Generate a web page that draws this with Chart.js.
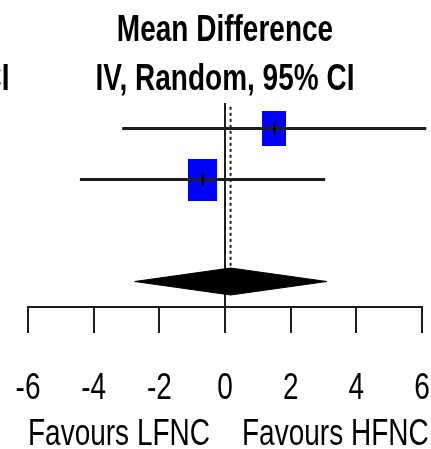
<!DOCTYPE html>
<html>
<head>
<meta charset="utf-8">
<script src="https://cdn.jsdelivr.net/npm/chart.js@4.4.1/dist/chart.umd.min.js"></script>
<style>
  html, body { margin: 0; padding: 0; background: #fff; overflow: hidden; }
</style>
</head>
<body>
<canvas id="forest" width="431" height="449"></canvas>
<script>
// Study rows, mean difference with 95% CI and weight (%)
const studies = ["Study 1", "Study 2"];
const rows = [1, 3];
const meanDiff = [1.50, -0.68];
const ciLow = [-3.13, -4.42];
const ciHigh = [6.13, 3.05];
const weights = [40.6, 59.4];

// Pooled (random effects) estimate
const pooledRow = 7;
const pooledMD = 0.17;
const pooledLow = -2.75;
const pooledHigh = 3.10;

const xTicks = [-6, -4, -2, 0, 2, 4, 6];
const headings = ["Mean Difference", "IV, Random, 95% CI"];
const favours = ["Favours LFNC", "Favours HFNC"];

const INK = "#1e1e1e";
const TEXT_STRETCH = 1.35;   // tall, narrow lettering

// blue weight box, area proportional to weight
function boxImage(w) {
  const side = 3.76 * Math.sqrt(w);
  const c = document.createElement("canvas");
  c.width = Math.round(side);
  c.height = Math.round(side * 1.45);
  const g = c.getContext("2d");
  g.fillStyle = "#0000ff";
  g.fillRect(0, 0, c.width, c.height);
  return c;
}

const ciLines = studies.map((s, i) => ({
  label: s + " CI",
  data: [{ x: ciLow[i], y: rows[i] }, { x: ciHigh[i], y: rows[i] }],
  borderColor: INK,
  borderWidth: 2.8,
  pointRadius: 0,
  clip: false,
  order: 1
}));

const boxes = {
  label: "weights",
  data: studies.map((s, i) => ({ x: meanDiff[i], y: rows[i] })),
  showLine: false,
  pointStyle: weights.map(boxImage),
  order: 2
};

const marks = {
  label: "estimates",
  data: studies.map((s, i) => ({ x: meanDiff[i], y: rows[i] })),
  showLine: false,
  pointStyle: "line",
  rotation: 90,
  radius: 6.5,
  borderColor: "#000",
  borderWidth: 2,
  order: 0
};

const dh = 0.53;
const diamond = {
  label: "pooled",
  data: [
    { x: pooledLow, y: pooledRow },
    { x: pooledMD, y: pooledRow - dh },
    { x: pooledHigh, y: pooledRow },
    { x: pooledMD, y: pooledRow + dh },
    { x: pooledLow, y: pooledRow }
  ],
  borderColor: "#000",
  backgroundColor: "#000",
  borderWidth: 1,
  fill: "shape",
  pointRadius: 0,
  order: 3
};

const pooledLine = {
  label: "pooled line",
  data: [{ x: pooledMD, y: 0.15 }, { x: pooledMD, y: pooledRow - dh }],
  borderColor: INK,
  borderWidth: 2,
  borderDash: [3, 3],
  pointRadius: 0,
  order: 4
};

function stretchedText(ctx, text, x, y, font, align) {
  ctx.save();
  ctx.font = font;
  ctx.fillStyle = "#000";
  ctx.textAlign = align;
  ctx.textBaseline = "alphabetic";
  ctx.translate(x, y);
  ctx.scale(1, TEXT_STRETCH);
  ctx.fillText(text, 0, 0);
  ctx.restore();
}

const forestText = {
  id: "forestText",
  afterDraw(chart) {
    const ctx = chart.ctx;
    const xs = chart.scales.x;
    const area = chart.chartArea;
    const mid = (area.left + area.right) / 2;
    const bold = "bold 28px 'Liberation Sans', Arial, sans-serif";
    const reg = "28px 'Liberation Sans', Arial, sans-serif";

    stretchedText(ctx, headings[0], mid, 41, bold, "center");
    stretchedText(ctx, headings[1], mid, 90, bold, "center");
    // tail of the neighbouring column header
    stretchedText(ctx, "95% CI", 9.5, 90, bold, "right");

    xTicks.forEach(v => {
      stretchedText(ctx, String(v), xs.getPixelForValue(v), 399, reg, "center");
    });

    const zero = xs.getPixelForValue(0);
    stretchedText(ctx, favours[0], zero - 15, 445, reg, "right");
    stretchedText(ctx, favours[1], zero + 17, 445, reg, "left");
  }
};

new Chart(document.getElementById("forest"), {
  type: "line",
  data: { datasets: [marks, ...ciLines, boxes, diamond, pooledLine] },
  options: {
    responsive: false,
    animation: false,
    devicePixelRatio: 1,
    layout: { padding: { left: 28, right: 9, top: 103, bottom: 116 } },
    plugins: { legend: { display: false }, tooltip: { enabled: false } },
    scales: {
      x: {
        type: "linear",
        min: -6,
        max: 6,
        afterBuildTicks: scale => { scale.ticks = xTicks.map(v => ({ value: v })); },
        ticks: { display: false },
        grid: {
          drawOnChartArea: true,
          color: c => (c.tick && c.tick.value === 0 ? INK : "rgba(0,0,0,0)"),
          lineWidth: 2,
          tickLength: 26,
          tickColor: INK,
          tickWidth: 2
        },
        border: { color: INK, width: 2 }
      },
      y: { type: "linear", reverse: true, min: 0, max: 8, display: false }
    }
  },
  plugins: [forestText]
});
</script>
</body>
</html>
